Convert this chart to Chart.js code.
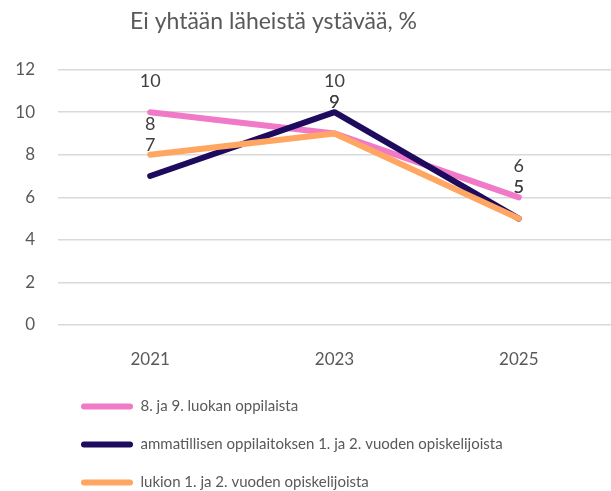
<!DOCTYPE html>
<html>
<head>
  <meta charset="utf-8">
  <title>Ei yhtään läheistä ystävää</title>
  <script src="https://cdn.jsdelivr.net/npm/chart.js@4.4.0/dist/chart.umd.min.js"></script>
  <style>
    html, body {
      margin: 0;
      padding: 0;
      background: #ffffff;
    }

    .chart {
      width: 611px;
      height: 491px;
    }
  </style>
</head>
<body>
<div class="chart"><canvas id="friends"></canvas></div>

<script>
  const years = ['2021', '2023', '2025'];
  const seriesNames = [
    '8. ja 9. luokan oppilaista',
    'ammatillisen oppilaitoksen 1. ja 2. vuoden opiskelijoista',
    'lukion 1. ja 2. vuoden opiskelijoista'
  ];
  const basicSchool = [10, 9, 6];
  const vocational = [7, 10, 5];
  const upperSecondary = [8, 9, 5];
  const yTicks = [0, 2, 4, 6, 8, 10, 12];

  const COLORS = ['#f17ac8', '#1e0b5e', '#ffa762'];
  const FONT = 'Lato, "Open Sans", sans-serif';

  // value labels above each point, like the Excel "above" labels
  const valueLabels = {
    id: 'valueLabels',
    afterDatasetsDraw(chart) {
      const ctx = chart.ctx;
      ctx.save();
      ctx.font = `18px ${FONT}`;
      ctx.fillStyle = '#404040';
      ctx.textAlign = 'center';
      ctx.textBaseline = 'middle';
      chart.data.datasets.forEach((ds, i) => {
        const meta = chart.getDatasetMeta(i);
        meta.data.forEach((pt, j) => {
          ctx.fillText(String(ds.data[j]), pt.x, pt.y - 31);
        });
      });
      ctx.restore();
    }
  };

  // the original title sits a bit left of the middle
  const titleShift = {
    id: 'titleShift',
    afterLayout(chart) {
      const t = chart.titleBlock;
      if (t) {
        t.left -= 32;
        t.right -= 32;
      }
    }
  };

  function line(label, data, color, order) {
    return {
      label,
      data,
      borderColor: color,
      backgroundColor: color,
      borderWidth: 6,
      borderCapStyle: 'round',
      borderJoinStyle: 'round',
      tension: 0,
      pointRadius: 0,
      pointHoverRadius: 0,
      order
    };
  }

  new Chart(document.getElementById('friends'), {
    type: 'line',
    data: {
      labels: years,
      datasets: [
        line(seriesNames[0], basicSchool, COLORS[0], 3),
        line(seriesNames[1], vocational, COLORS[1], 2),
        line(seriesNames[2], upperSecondary, COLORS[2], 1)
      ]
    },
    options: {
      responsive: true,
      maintainAspectRatio: false,
      animation: false,
      layout: { padding: 0 },
      plugins: {
        title: {
          display: true,
          text: 'Ei yhtään läheistä ystävää, %',
          color: '#595959',
          font: { family: FONT, size: 23, weight: 'normal' },
          padding: { top: 8, bottom: 34 }
        },
        legend: {
          position: 'bottom',
          align: 'start',
          fullSize: false,
          maxHeight: 115,
          labels: {
            color: '#595959',
            font: { family: FONT, size: 15 },
            boxWidth: 52,
            boxHeight: 6,
            padding: 23,
            useBorderRadius: true,
            borderRadius: 3,
            sort: (a, b) => a.datasetIndex - b.datasetIndex,
            generateLabels(chart) {
              return Chart.defaults.plugins.legend.labels.generateLabels(chart)
                .map(item => ({ ...item, lineWidth: 0 }));
            }
          }
        },
        tooltip: { enabled: false }
      },
      scales: {
        x: {
          offset: true,
          grid: { display: false, drawTicks: false },
          border: { display: false },
          ticks: {
            color: '#595959',
            font: { family: FONT, size: 17 },
            padding: 24
          },
          afterFit(scale) {
            scale.height = 51;
          }
        },
        y: {
          min: 0,
          max: 12,
          afterBuildTicks(scale) {
            scale.ticks = yTicks.map(v => ({ value: v }));
          },
          grid: {
            color: '#d9d9d9',
            lineWidth: 1.5,
            drawTicks: false
          },
          border: { display: false },
          ticks: {
            color: '#595959',
            font: { family: FONT, size: 17 },
            padding: 23
          },
          afterFit(scale) {
            scale.width = 58;
          }
        }
      }
    },
    plugins: [valueLabels, titleShift]
  });
</script>
</body>
</html>
